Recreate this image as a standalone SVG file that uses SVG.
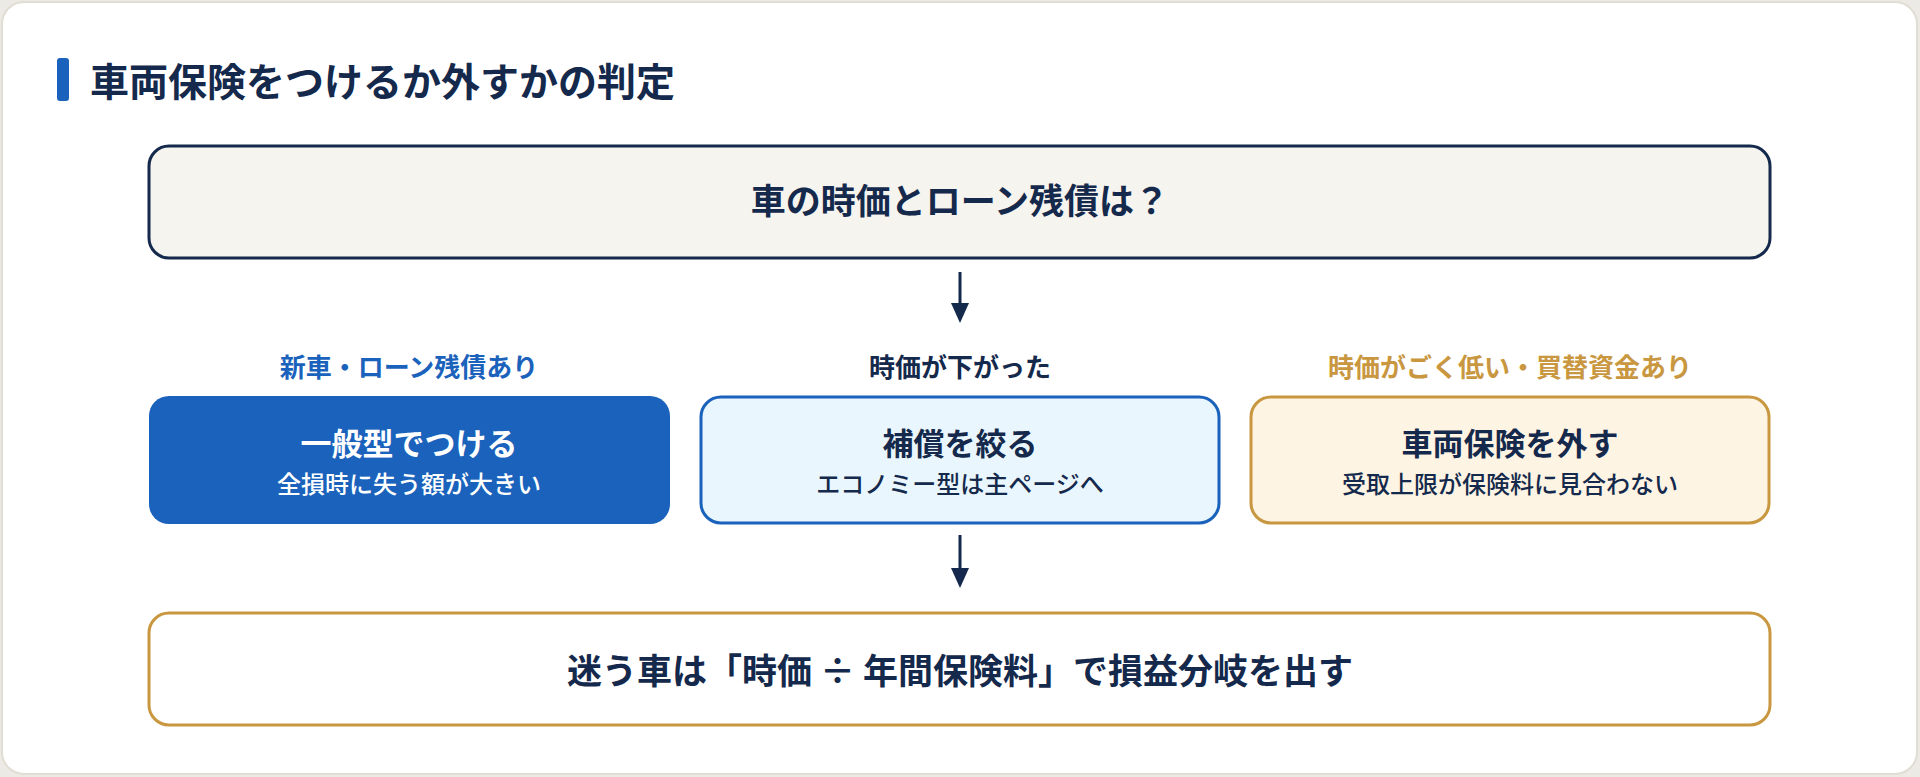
<svg xmlns="http://www.w3.org/2000/svg" width="1920" height="777" viewBox="0 0 1920 777">
<defs>
<style>
text{font-family:"Noto Sans CJK JP","Noto Sans",sans-serif;text-anchor:middle}
.title{font-size:39px;font-weight:700;fill:#14294b;text-anchor:start}
.q{font-size:35px;font-weight:700;fill:#14294b}
.lbl{font-size:26px;font-weight:700}
.bt{font-size:31px;font-weight:700}
.bs{font-size:24px;font-weight:500}
.conn line{stroke:#14294b;stroke-width:3}
.conn path{fill:#14294b}
</style>
</defs>
<rect x="0" y="0" width="1920" height="777" fill="#eceae4"/>
<rect x="2" y="2" width="1915" height="772" rx="22" fill="#ffffff" stroke="#e0ddd4" stroke-width="2"/>
<g id="title">
<rect x="57" y="58" width="12" height="43" rx="3" fill="#1a62bb"/>
<text class="title" x="90" y="96">車両保険をつけるか外すかの判定</text>
</g>
<g id="q">
<rect x="149" y="146" width="1621" height="112" rx="20" fill="#f5f4ef" stroke="#14294b" stroke-width="3"/>
<text class="q" x="960" y="214">車の時価とローン残債は？</text>
</g>
<g class="conn" id="connectors">
<line x1="960" y1="272" x2="960" y2="305"/>
<path d="M951 303 L969 303 L960 323 Z"/>
<line x1="960" y1="535" x2="960" y2="570"/>
<path d="M951 568 L969 568 L960 588 Z"/>
</g>
<g id="n1">
<text class="lbl" x="409" y="377" fill="#1a62bb">新車・ローン残債あり</text>
<rect x="149" y="396" width="521" height="128" rx="20" fill="#1a62bb"/>
<text class="bt" x="409" y="455" fill="#ffffff">一般型でつける</text>
<text class="bs" x="409" y="493" fill="#ffffff">全損時に失う額が大きい</text>
</g>
<g id="n2">
<text class="lbl" x="960" y="377" fill="#14294b">時価が下がった</text>
<rect x="701" y="397" width="518" height="126" rx="20" fill="#e9f6fd" stroke="#1a62bb" stroke-width="3"/>
<text class="bt" x="960" y="455" fill="#14294b">補償を絞る</text>
<text class="bs" x="960" y="493" fill="#14294b">エコノミー型は主ページへ</text>
</g>
<g id="n3">
<text class="lbl" x="1510" y="377" fill="#c9973f">時価がごく低い・買替資金あり</text>
<rect x="1251" y="397" width="518" height="126" rx="20" fill="#fdf4e4" stroke="#c9973f" stroke-width="3"/>
<text class="bt" x="1510" y="455" fill="#14294b">車両保険を外す</text>
<text class="bs" x="1510" y="493" fill="#14294b">受取上限が保険料に見合わない</text>
</g>
<g id="bottom">
<rect x="149" y="613" width="1621" height="112" rx="20" fill="#ffffff" stroke="#c9973f" stroke-width="3"/>
<text class="q" x="960" y="684">迷う車は「時価 ÷ 年間保険料」で損益分岐を出す</text>
</g>
</svg>
